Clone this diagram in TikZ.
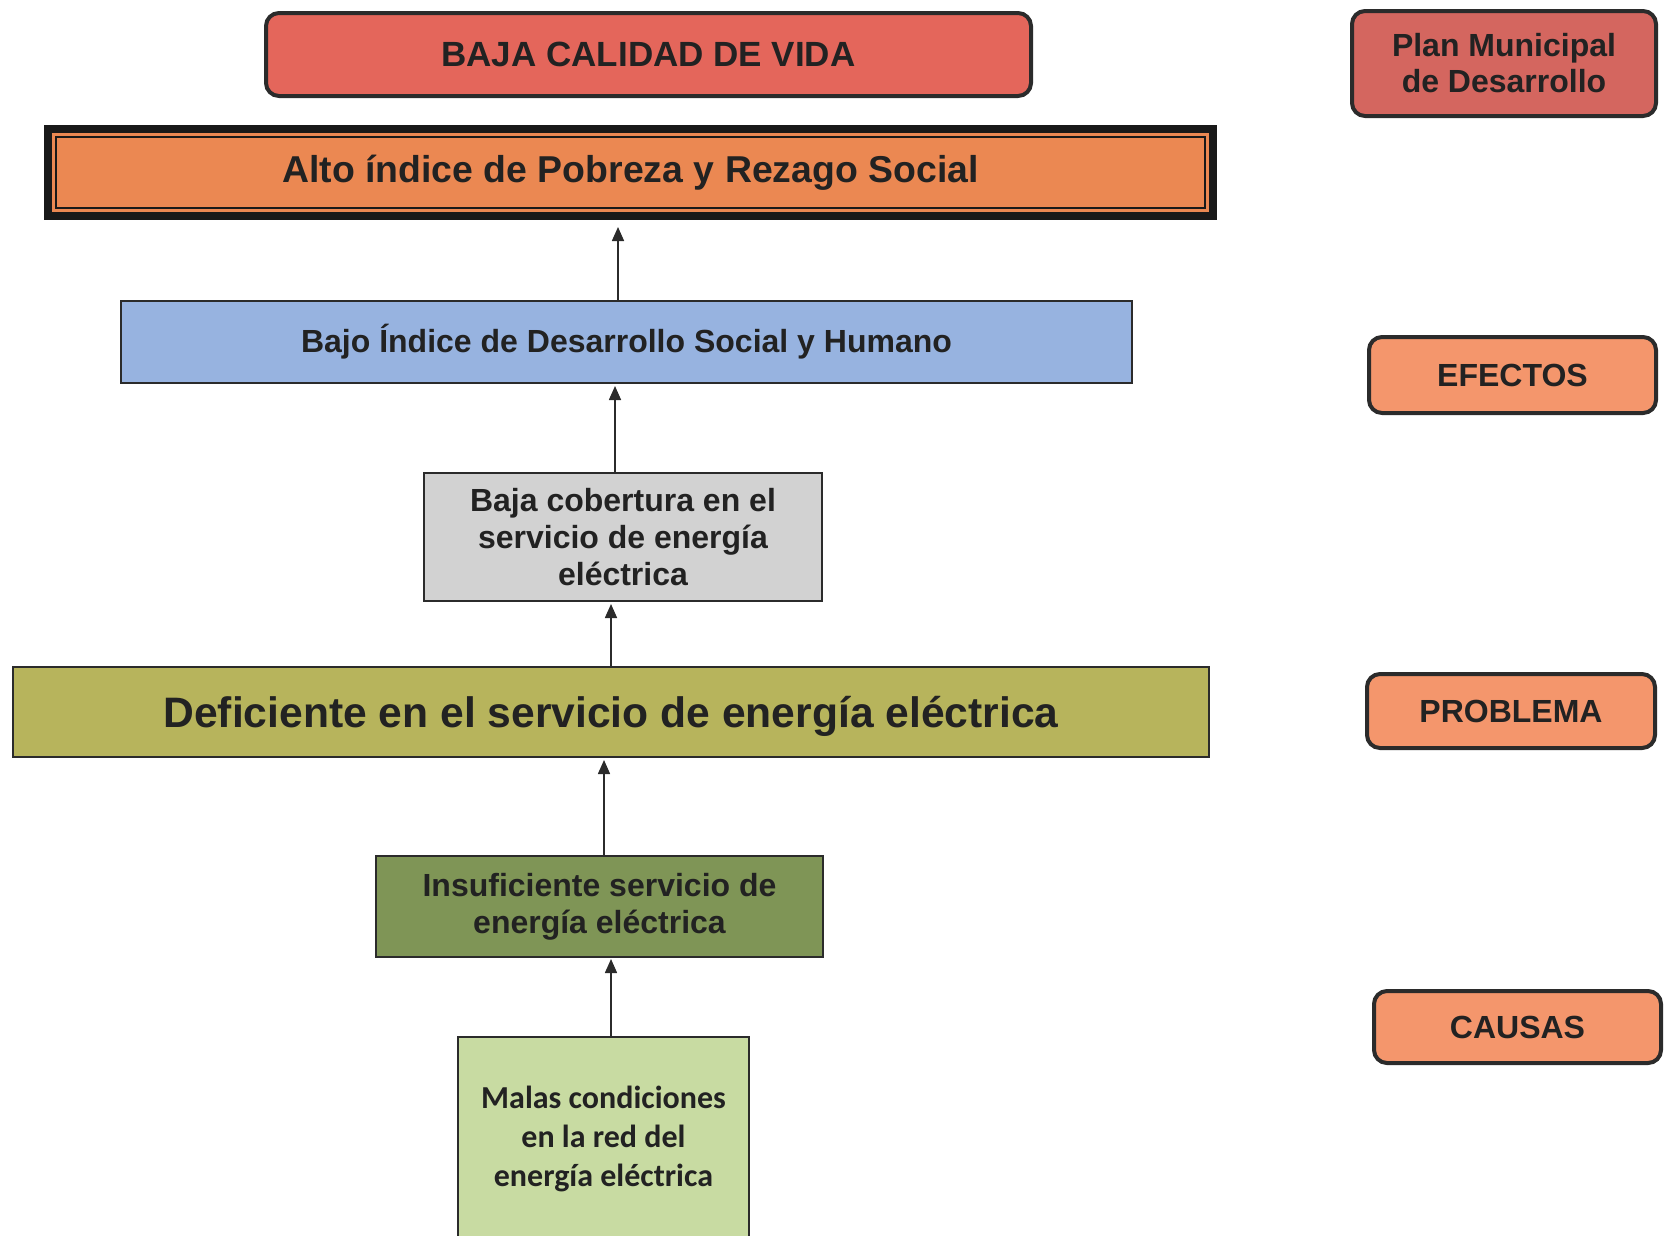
\documentclass[tikz,border=0pt]{standalone}
\usepackage{fontspec}
\setmainfont{Liberation Sans}
\newfontfamily\calibri{Carlito}
\usepackage{tikz}
\usetikzlibrary{arrows.meta}
\definecolor{vidacol}{HTML}{E4665B}
\definecolor{pobrezacol}{HTML}{EB8852}
\definecolor{bajocol}{HTML}{97B3E0}
\definecolor{grisecol}{HTML}{D2D2D2}
\definecolor{defcol}{HTML}{B7B45C}
\definecolor{insufcol}{HTML}{7F9556}
\definecolor{malascol}{HTML}{C8DBA2}
\definecolor{plancol}{HTML}{D4665F}
\definecolor{etiqcol}{HTML}{F4966C}
\definecolor{linea}{HTML}{2B2B2B}
\definecolor{texto}{HTML}{222222}

\begin{document}
\begin{tikzpicture}[x=1pt,y=-1pt,
		caja/.style={draw=linea, line width=2, text=texto, align=center, inner sep=0, font=\bfseries\fontsize{32}{37}\selectfont},
		etiqueta/.style={draw=linea, line width=4, rounded corners=13, fill=etiqcol, text=texto, align=center, inner sep=0, font=\bfseries\fontsize{32}{36}\selectfont},
		flecha/.style={draw=linea, line width=1.6, -{Triangle[length=14,width=12]}}]
			\useasboundingbox (0,0) rectangle (1667,1235);
			\clip (0,0) rectangle (1667,1235);
			\node[etiqueta, fill=vidacol, minimum width=765, minimum height=83, font=\bfseries\fontsize{35}{40}\selectfont] (vida) at (648.5,54.5) {BAJA CALIDAD DE VIDA};
			\node[caja, line width=8, draw=black!90, fill=pobrezacol, minimum width=1165, minimum height=87, font=\bfseries\fontsize{37.4}{42}\selectfont] (pobreza) at (630.5,172.5) {Alto índice de Pobreza y Rezago Social};
			\draw[line width=2, black!90] ([shift={(12,12)}]pobreza.north west) rectangle ([shift={(-12,-12)}]pobreza.south east);
			\node[caja, fill=bajocol, minimum width=1011, minimum height=82] (bajo) at (626.5,342) {Bajo Índice de Desarrollo Social y Humano};
			\node[caja, fill=grisecol, minimum width=398, minimum height=128] (cobertura) at (623,537) {Baja cobertura en el\\servicio de energía\\eléctrica};
			\node[caja, fill=defcol, minimum width=1196, minimum height=90, text height=31, text depth=0, font=\bfseries\fontsize{42.6}{48}\selectfont] (deficiente) at (611,712) {Deficiente en el servicio de energía eléctrica};
			\node[caja, fill=insufcol, minimum width=447, minimum height=101] (insuficiente) at (599.5,906.5) {Insuficiente servicio de\\energía eléctrica};
			\node[caja, fill=malascol, minimum width=291, minimum height=204, font=\calibri\bfseries\fontsize{32}{39}\selectfont] (malas) at (603.5,1139) {Malas condiciones\\en la red del\\energía eléctrica};
			\node[etiqueta, fill=plancol, minimum width=304, minimum height=105] (plan) at (1504,63.5) {Plan Municipal\\de Desarrollo};
			\node[etiqueta, minimum width=287, minimum height=76] (efectos) at (1512.5,375) {EFECTOS};
			\node[etiqueta, minimum width=288, minimum height=74] (problema) at (1511,711) {PROBLEMA};
			\node[etiqueta, minimum width=287, minimum height=72] (causas) at (1517.5,1027) {CAUSAS};
			\coordinate (a1) at ([xshift=-8.5]bajo.north);
			\coordinate (a2) at ([xshift=-8]cobertura.north);
			\coordinate (a3) at (611,666);
			\coordinate (a4) at ([xshift=4.5]insuficiente.north);
			\coordinate (a5) at ([xshift=7.5]malas.north);
			\draw[flecha, shorten >=7] (a1) -- (a1 |- pobreza.south);
			\draw[flecha, shorten >=2] (a2) -- (a2 |- bajo.south);
			\draw[flecha, shorten >=2] (a3) -- (a3 |- cobertura.south);
			\draw[flecha, shorten >=2] (a4) -- (a4 |- deficiente.south);
			\draw[flecha, shorten >=1] (a5) -- (a5 |- insuficiente.south);
		\end{tikzpicture}
\end{document}
